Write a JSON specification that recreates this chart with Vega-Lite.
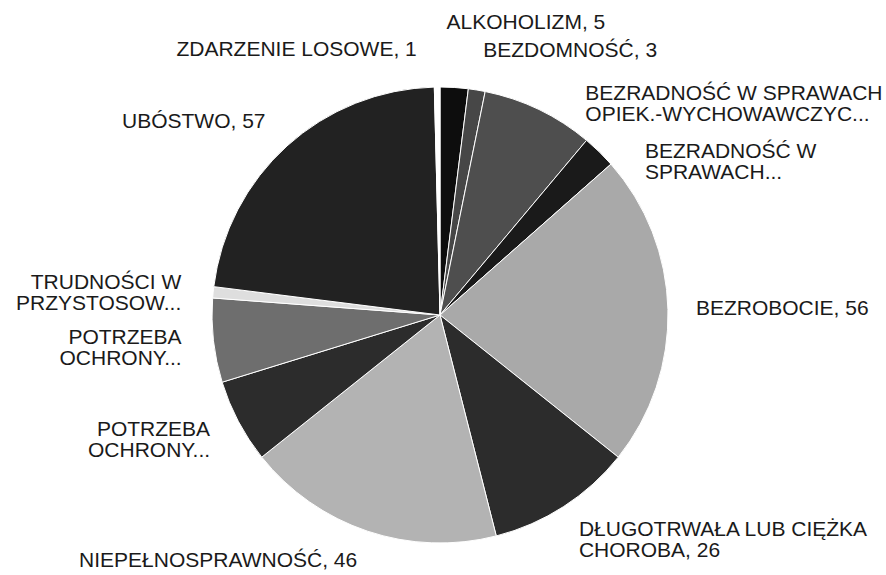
{
  "$schema": "https://vega.github.io/schema/vega-lite/v6.json",
  "autosize": {"type": "none"},
  "width": 880,
  "height": 520,
  "padding": {"left": 0, "right": 6, "top": 55, "bottom": 0},
  "background": "white",
  "data": {
    "values": [
      {"n": 1, "k": "ALKOHOLIZM", "label": "ALKOHOLIZM, 5", "v": 5},
      {"n": 2, "k": "BEZDOMNOŚĆ", "label": "BEZDOMNOŚĆ, 3", "v": 3},
      {"n": 3, "k": "BEZRADNOŚĆ W SPRAWACH OPIEK.-WYCHOWAWCZYCH", "label": "BEZRADNOŚĆ W SPRAWACH\nOPIEK.-WYCHOWAWCZYC...", "v": 20},
      {"n": 4, "k": "BEZRADNOŚĆ W SPRAWACH PROWADZENIA GOSPODARSTWA", "label": "BEZRADNOŚĆ W\nSPRAWACH...", "v": 6},
      {"n": 5, "k": "BEZROBOCIE", "label": "BEZROBOCIE, 56", "v": 56},
      {"n": 6, "k": "DŁUGOTRWAŁA LUB CIĘŻKA CHOROBA", "label": "DŁUGOTRWAŁA LUB CIĘŻKA\nCHOROBA, 26", "v": 26},
      {"n": 7, "k": "NIEPEŁNOSPRAWNOŚĆ", "label": "NIEPEŁNOSPRAWNOŚĆ, 46", "v": 46},
      {"n": 8, "k": "POTRZEBA OCHRONY MACIERZYŃSTWA", "label": "POTRZEBA\nOCHRONY...", "v": 15},
      {"n": 9, "k": "POTRZEBA OCHRONY WIELODZIETNOŚCI", "label": "POTRZEBA\nOCHRONY...", "v": 15},
      {"n": 10, "k": "TRUDNOŚCI W PRZYSTOSOWANIU", "label": "TRUDNOŚCI W\nPRZYSTOSOW...", "v": 2},
      {"n": 11, "k": "UBÓSTWO", "label": "UBÓSTWO, 57", "v": 57},
      {"n": 12, "k": "ZDARZENIE LOSOWE", "label": "ZDARZENIE LOSOWE, 1", "v": 1}
    ]
  },
  "encoding": {
    "theta": {"field": "v", "type": "quantitative", "stack": true},
    "order": {"field": "n", "type": "quantitative"}
  },
  "layer": [
    {
      "mark": {"type": "arc", "radius": 228, "stroke": "white", "strokeWidth": 1},
      "encoding": {
        "color": {
          "field": "k",
          "type": "nominal",
          "legend": null,
          "scale": {
            "domain": ["ALKOHOLIZM", "BEZDOMNOŚĆ", "BEZRADNOŚĆ W SPRAWACH OPIEK.-WYCHOWAWCZYCH", "BEZRADNOŚĆ W SPRAWACH PROWADZENIA GOSPODARSTWA", "BEZROBOCIE", "DŁUGOTRWAŁA LUB CIĘŻKA CHOROBA", "NIEPEŁNOSPRAWNOŚĆ", "POTRZEBA OCHRONY MACIERZYŃSTWA", "POTRZEBA OCHRONY WIELODZIETNOŚCI", "TRUDNOŚCI W PRZYSTOSOWANIU", "UBÓSTWO", "ZDARZENIE LOSOWE"],
            "range": ["#0d0d0d", "#474747", "#4e4e4e", "#1a1a1a", "#a9a9a9", "#2c2c2c", "#b3b3b3", "#2c2c2c", "#6e6e6e", "#dedede", "#222222", "#ffffff"]
          }
        }
      }
    },
    {
      "mark": {"type": "text", "radius": 256, "align": "left", "baseline": "middle", "font": "Liberation Sans", "fontSize": 21, "lineBreak": "\n", "lineHeight": 21},
      "encoding": {
        "detail": {"field": "k", "type": "nominal"},
        "color": {"value": "#1a1a1a"},
        "text": {"condition": {"test": "datum.k == 'BEZROBOCIE' || datum.k == 'DŁUGOTRWAŁA LUB CIĘŻKA CHOROBA'", "field": "label"}, "value": ""}
      }
    },
    {
      "mark": {"type": "text", "radius": 268, "align": "left", "baseline": "middle", "font": "Liberation Sans", "fontSize": 21, "lineBreak": "\n", "lineHeight": 21},
      "encoding": {
        "detail": {"field": "k", "type": "nominal"},
        "color": {"value": "#1a1a1a"},
        "text": {"condition": {"test": "datum.k == 'BEZDOMNOŚĆ'", "field": "label"}, "value": ""}
      }
    },
    {
      "mark": {"type": "text", "radius": 260, "align": "right", "baseline": "middle", "font": "Liberation Sans", "fontSize": 21, "lineBreak": "\n", "lineHeight": 21},
      "encoding": {
        "detail": {"field": "k", "type": "nominal"},
        "color": {"value": "#1a1a1a"},
        "text": {"condition": {"test": "datum.n == 7 || datum.n == 11", "field": "label"}, "value": ""}
      }
    },
    {
      "mark": {"type": "text", "radius": 260, "dy": -6, "align": "right", "baseline": "middle", "font": "Liberation Sans", "fontSize": 21, "lineBreak": "\n", "lineHeight": 21},
      "encoding": {
        "detail": {"field": "k", "type": "nominal"},
        "color": {"value": "#1a1a1a"},
        "text": {"condition": {"test": "datum.n >= 8 && datum.n <= 10", "field": "label"}, "value": ""}
      }
    },
    {
      "mark": {"type": "text", "radius": 266, "thetaOffset": -0.075, "align": "right", "baseline": "middle", "font": "Liberation Sans", "fontSize": 21, "lineBreak": "\n", "lineHeight": 21},
      "encoding": {
        "detail": {"field": "k", "type": "nominal"},
        "color": {"value": "#1a1a1a"},
        "text": {"condition": {"test": "datum.k == 'ZDARZENIE LOSOWE'", "field": "label"}, "value": ""}
      }
    },
    {
      "mark": {"type": "text", "radius": 292, "thetaOffset": -0.04, "align": "left", "baseline": "middle", "font": "Liberation Sans", "fontSize": 21, "lineBreak": "\n", "lineHeight": 21},
      "encoding": {
        "detail": {"field": "k", "type": "nominal"},
        "color": {"value": "#1a1a1a"},
        "text": {"condition": {"test": "datum.k == 'ALKOHOLIZM'", "field": "label"}, "value": ""}
      }
    },
    {
      "mark": {"type": "text", "radius": 256, "thetaOffset": 0.155, "dy": -10, "align": "left", "baseline": "middle", "font": "Liberation Sans", "fontSize": 21, "lineBreak": "\n", "lineHeight": 21},
      "encoding": {
        "detail": {"field": "k", "type": "nominal"},
        "color": {"value": "#1a1a1a"},
        "text": {"condition": {"test": "datum.n == 3 || datum.n == 4", "field": "label"}, "value": ""}
      }
    }
  ]
}
